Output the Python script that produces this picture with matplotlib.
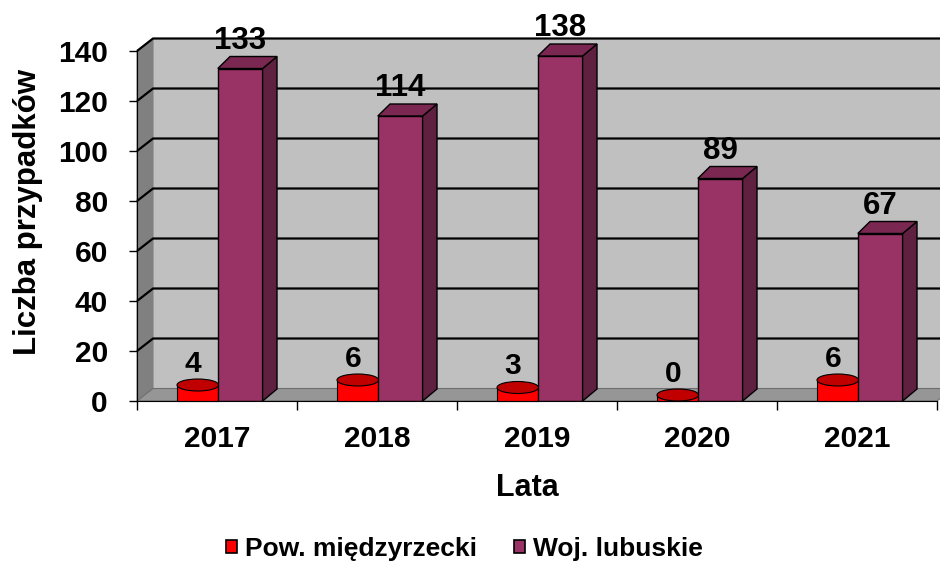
import matplotlib.pyplot as plt
from matplotlib.patches import Polygon, Rectangle, Ellipse, Patch

years = ['2017', '2018', '2019', '2020', '2021']
pow_vals = [4, 6, 3, 0, 6]
woj_vals = [133, 114, 138, 89, 67]
y_ticks = [0, 20, 40, 60, 80, 100, 120, 140]
series_names = ['Pow. międzyrzecki', 'Woj. lubuskie']

plt.rcParams['font.family'] = ['Liberation Sans', 'DejaVu Sans']
plt.rcParams['font.weight'] = 'bold'

# --- fake 3d settings (depth offset in data units) ---
DX = 0.1     # depth shift along x (categories)
DY = 5.0     # depth shift along y (values)
BDX = 0.09   # bar depth shift
BDY = 4.8

fig = plt.figure(figsize=(9.4, 5.67), dpi=100)
ax = fig.add_axes([137/940, 166/567, 800/940, 350/567])
ax.set_xlim(-0.5, 4.5)
ax.set_ylim(0, 140)
ax.patch.set_alpha(0)

x0, x1 = -0.5, len(years) - 0.5
ytop = y_ticks[-1]

# walls and floor
back = Rectangle((x0 + DX, DY), x1 - x0, ytop, facecolor='#c0c0c0',
                 edgecolor='none', zorder=0.5, clip_on=False)
left = Polygon([(x0, 0), (x0 + DX, DY), (x0 + DX, ytop + DY), (x0, ytop)],
               closed=True, facecolor='#808080', edgecolor='#808080',
               lw=0.8, zorder=0.6, clip_on=False)
floor = Polygon([(x0, 0), (x1, 0), (x1 + DX, DY), (x0 + DX, DY)],
                closed=True, facecolor='#969696', edgecolor='#6e6e6e',
                lw=0.8, zorder=0.7, clip_on=False)
for p in (back, left, floor):
    ax.add_patch(p)

for v in y_ticks[1:]:
    ax.plot([x0, x0 + DX, x1 + DX], [v, v + DY, v + DY], color='black',
            lw=1.6, zorder=0.8, clip_on=False, solid_capstyle='butt')

# bars
red_w = 0.26
red_off = -0.12
bar_w = 0.28
bar_off = 0.005
for i, (pv, wv) in enumerate(zip(pow_vals, woj_vals)):
    # red cylinder
    cx = i + red_off
    body = Rectangle((cx - red_w/2, 0), red_w, pv + BDY/2, facecolor='#ff0000',
                     edgecolor='black', lw=0.8, zorder=2, clip_on=False)
    ax.add_patch(body)
    top = Ellipse((cx, pv + BDY/2), red_w, BDY, facecolor='#c00000',
                  edgecolor='black', lw=0.8, zorder=2.1, clip_on=False)
    ax.add_patch(top)
    ax.text(i - 0.15, pv + 7.6, str(pv), ha='center', va='baseline',
            fontsize=21.5, fontweight='bold', zorder=5)

    # purple box
    bl = i + bar_off
    br = bl + bar_w
    front = Rectangle((bl, 0), bar_w, wv, facecolor='#993366',
                      edgecolor='black', lw=1, zorder=3)
    side = Polygon([(br, 0), (br + BDX, BDY), (br + BDX, wv + BDY), (br, wv)],
                   closed=True, facecolor='#602040', edgecolor='black',
                   lw=1, zorder=3, clip_on=False)
    topf = Polygon([(bl, wv), (br, wv), (br + BDX, wv + BDY), (bl + BDX*0.85, wv + BDY)],
                   closed=True, facecolor='#7a2852', edgecolor='black',
                   lw=1, zorder=3, clip_on=False)
    for p in (front, side, topf):
        ax.add_patch(p)
    ax.text(bl + bar_w/2, wv + 7.8, str(wv), ha='center', va='baseline',
            fontsize=22.5, fontweight='bold', zorder=5, clip_on=False)

# axes
for s in ('top', 'right'):
    ax.spines[s].set_visible(False)
ax.spines['left'].set_color('black')
ax.spines['bottom'].set_color('black')
ax.spines['left'].set_zorder(4)
ax.spines['bottom'].set_zorder(4)

ax.set_yticks(y_ticks)
ax.set_yticklabels([str(v) for v in y_ticks], fontsize=21.5, fontweight='bold')
ax.tick_params(axis='y', length=6, width=1, pad=15, direction='out')

ax.set_xticks([b - 0.5 for b in range(len(years) + 1)])
ax.set_xticklabels([])
ax.set_xticks(range(len(years)), minor=True)
ax.set_xticklabels(years, minor=True, fontsize=21.5, fontweight='bold')
ax.tick_params(axis='x', which='major', length=6.5, width=1, direction='out')
ax.tick_params(axis='x', which='minor', length=0, pad=17)

fig.text(527/940, 1 - 488/567, 'Lata', ha='center', va='center',
         fontsize=22, fontweight='bold')
fig.text(28/940, 1 - 212/567, 'Liczba przypadków', ha='center', va='center',
         rotation=90, fontsize=22.5, fontweight='bold')

handles = [Patch(facecolor='#ff0000', edgecolor='black', lw=1.2),
           Patch(facecolor='#993366', edgecolor='black', lw=1.2)]
fig.legend(handles, series_names, loc='center', bbox_to_anchor=(464/940, 1 - 549/567),
           ncol=2, frameon=False, prop={'size': 19, 'weight': 'bold'},
           handlelength=0.42, handleheight=0.42, handletextpad=0.3,
           columnspacing=1.4)

fig.savefig('out.png', dpi=100)
